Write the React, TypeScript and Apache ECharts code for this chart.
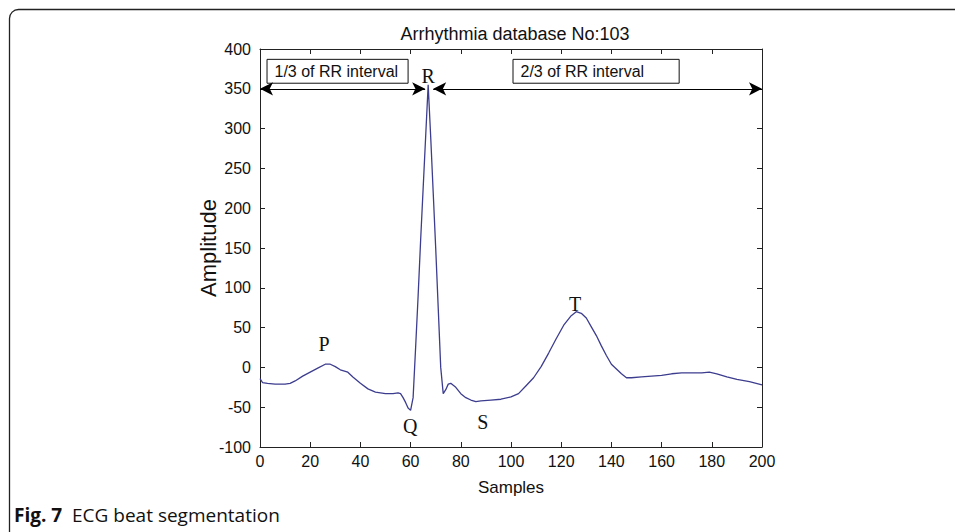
import React, { useEffect, useRef } from "react";
import * as echarts from "echarts";

// ECG beat (samples vs amplitude)
const samples = [0, 1, 3, 6, 10, 12, 14, 17, 20, 23, 26, 28, 30, 32, 34, 35, 37, 40, 43, 46, 50, 53, 55, 56, 57, 58, 59, 60, 61, 62, 63, 64, 65, 66, 67, 68, 69, 70, 71, 72, 73, 74, 75, 76, 78, 80, 82, 84, 86, 88, 92, 96, 100, 103, 106, 109, 112, 115, 118, 121, 124, 126, 128, 130, 132, 134, 136, 138, 140, 142, 144, 146, 148, 152, 156, 160, 164, 168, 172, 176, 179, 182, 186, 190, 195, 200];
const amplitude = [-14, -19, -20, -21, -21, -20, -17, -11, -6, -1, 4, 4, 1, -3, -5, -6, -12, -20, -27, -31, -33, -33, -32, -33, -38, -44, -51, -54, -38, 25, 90, 160, 225, 290, 355, 290, 220, 150, 75, 0, -33, -28, -21, -20, -25, -33, -38, -41, -43, -42, -41, -40, -37, -33, -23, -13, 1, 18, 36, 53, 65, 70, 68, 62, 51, 40, 27, 15, 4, -2, -8, -13, -13, -12, -11, -10, -8, -7, -7, -7, -6, -8, -12, -15, -18, -22];

// Wave labels (text, sample, amplitude)
const waveNames = ["P", "Q", "R", "S", "T"];
const waveX = [25.5, 59.8, 67, 88.8, 125.5];
const waveY = [29, -73, 366, -69, 80];

// Segmentation annotations
const segTexts = ["1/3 of RR interval", "2/3 of RR interval"];
const segBoxX = [[2.8, 59], [100.8, 167]];
const segBoxY = [[387, 357]];
const arrowLevel = 350;
const arrowX = [[0, 65.8], [69, 200]];

const xTicks = { min: 0, max: 200, interval: 20 };
const yTicks = { min: -100, max: 400, interval: 50 };

const title = "Arrhythmia database No:103";
const xName = "Samples";
const yName = "Amplitude";
const captionBold = "Fig. 7";
const captionText = "ECG beat segmentation";

export default function App() {
  const ref = useRef<HTMLDivElement>(null);
  useEffect(() => {
    if (!ref.current) return;
    const chart = echarts.init(ref.current, null, { renderer: "svg" });
    const sans = "Liberation Sans, Arial, sans-serif";
    const serif = "Liberation Serif, Times New Roman, serif";
    const axisCommon = {
      axisLine: { show: true, onZero: false, lineStyle: { color: "#222", width: 1 } },
      axisTick: { show: true, inside: true, length: 5, lineStyle: { color: "#222" } },
      splitLine: { show: false },
    };
    chart.setOption({
      animation: false,
      backgroundColor: "#fff",
      title: {
        text: title,
        left: 510,
        top: 20,
        textAlign: "center",
        textStyle: { fontFamily: sans, fontSize: 18, fontWeight: "normal", color: "#111" },
      },
      grid: { left: 260, right: 193, top: 49, bottom: 85, containLabel: false },
      xAxis: [
        {
          type: "value",
          position: "bottom",
          ...xTicks,
          ...axisCommon,
          name: xName,
          nameLocation: "middle",
          nameGap: 32,
          nameMoveOverlap: false,
          nameTextStyle: { fontFamily: sans, fontSize: 17, color: "#111" },
          axisLabel: { fontFamily: sans, fontSize: 16, color: "#111", margin: 6 },
        },
        {
          type: "value",
          position: "top",
          ...xTicks,
          ...axisCommon,
          axisLabel: { show: false },
        },
      ],
      yAxis: [
        {
          type: "value",
          position: "left",
          ...yTicks,
          ...axisCommon,
          name: yName,
          nameLocation: "middle",
          nameGap: 41,
          nameMoveOverlap: false,
          nameTextStyle: { fontFamily: sans, fontSize: 22, color: "#111" },
          axisLabel: { fontFamily: sans, fontSize: 16, color: "#111", margin: 9 },
        },
        {
          type: "value",
          position: "right",
          ...yTicks,
          ...axisCommon,
          axisLabel: { show: false },
        },
      ],
      series: [
        {
          type: "line",
          xAxisIndex: 0,
          yAxisIndex: 0,
          data: samples.map((s, i) => [s, amplitude[i]]),
          showSymbol: false,
          symbol: "none",
          smooth: false,
          lineStyle: { color: "#3d3d8f", width: 1.3 },
          markLine: {
            silent: true,
            symbol: ["arrow", "arrow"],
            symbolSize: [10, 13],
            label: { show: false },
            lineStyle: { color: "#000", width: 1, type: "solid" },
            data: arrowX.map((a) => [
              { coord: [a[0], arrowLevel] },
              { coord: [a[1], arrowLevel] },
            ]),
          },
          markArea: {
            silent: true,
            itemStyle: { color: "rgba(0,0,0,0)", borderColor: "#111", borderWidth: 1 },
            label: {
              show: true,
              position: "insideLeft",
              distance: 8,
              fontFamily: sans,
              fontSize: 16,
              color: "#111",
            },
            data: segTexts.map((t, i) => [
              { name: t, coord: [segBoxX[i][0], segBoxY[0][0]] },
              { coord: [segBoxX[i][1], segBoxY[0][1]] },
            ]),
          },
          markPoint: {
            silent: true,
            symbol: "rect",
            symbolSize: 1,
            itemStyle: { color: "rgba(0,0,0,0)" },
            label: {
              show: true,
              position: "inside",
              formatter: "{b}",
              fontFamily: serif,
              fontSize: 20,
              color: "#111",
            },
            data: waveNames.map((n, i) => ({ name: n, coord: [waveX[i], waveY[i]] })),
          },
        },
      ],
      graphic: [
        {
          type: "rect",
          left: 7,
          top: 7,
          shape: { x: 0, y: 0, width: 1000, height: 600, r: [9, 0, 0, 0] },
          style: { fill: "none", stroke: "#222", lineWidth: 1.3 },
          silent: true,
          z: 0,
        },
        {
          type: "text",
          left: 14,
          top: 505,
          style: {
            text: `{b|${captionBold}}{n|  ${captionText}}`,
            rich: {
              b: { fontFamily: "Open Sans, sans-serif", fontSize: 19, fontWeight: "bold", fill: "#111" },
              n: { fontFamily: "Open Sans, sans-serif", fontSize: 19, fill: "#111" },
            },
          },
        },
      ],
    });
    return () => chart.dispose();
  }, []);
  return (
    <div
      ref={ref}
      style={{ position: "fixed", left: 0, top: 0, width: 955, height: 532, background: "#fff" }}
    />
  );
}
